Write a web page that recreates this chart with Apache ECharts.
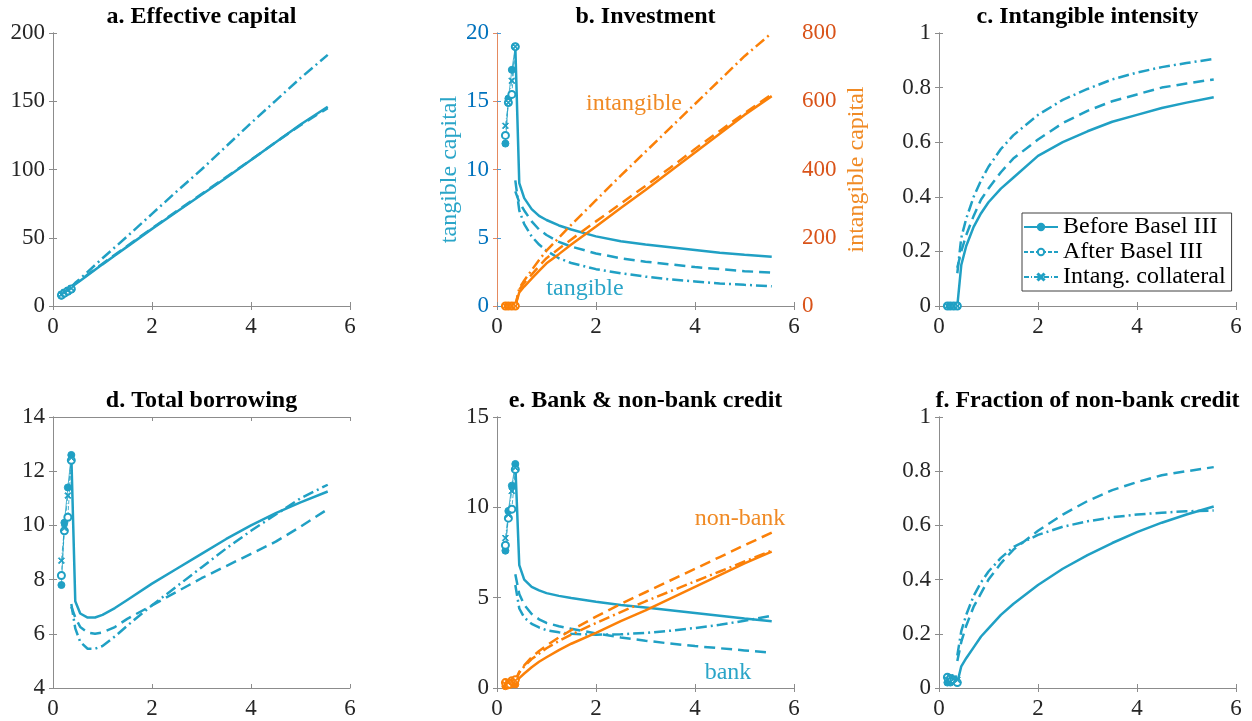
<!DOCTYPE html>
<html>
<head>
<meta charset="utf-8">
<title>Credit and capital paths</title>
<script src="https://cdn.jsdelivr.net/npm/echarts@6/dist/echarts.min.js"></script>
<style>
  html, body { margin: 0; padding: 0; background: #ffffff; }
  #chart { width: 1252px; height: 721px; }
</style>
</head>
<body>
<div id="chart"></div>
<script>
// ---- grids of x values ----
const xLow  = [0.17, 0.23, 0.30, 0.37];
const xPath = [0.37, 0.45, 0.55, 0.7, 0.85, 1.0, 1.25, 1.5, 2.0, 2.5, 3.0, 3.5, 4.0, 4.5, 5.0, 5.55];

// ---- legend names ----
const scenarioNames = ['Before Basel III', 'After Basel III', 'Intang. collateral'];

// ---- panel titles ----
const panelTitles = ['a. Effective capital', 'b. Investment', 'c. Intangible intensity',
                     'd. Total borrowing', 'e. Bank & non-bank credit', 'f. Fraction of non-bank credit'];

// ---- a. Effective capital ----
const capBeforeLow = [7.5, 9.0, 10.5, 12.0];
const capAfterLow  = [8.0, 9.5, 11.0, 12.5];
const capIntangLow = [8.5, 10.0, 11.5, 13.0];
const capBefore = [14, 16, 18.5, 22.5, 26.5, 30.5, 37, 43.5, 56.5, 69, 81.5, 94, 107, 120, 133, 146];
const capAfter  = [14, 16.5, 19, 23, 27, 31, 37.5, 44, 57, 69.5, 82, 94.5, 107, 120, 132.5, 145];
const capIntang = [14, 17, 20, 25, 30, 35, 43, 51, 67.5, 84, 100, 117, 134, 150.5, 167, 184];

// ---- b. Investment: tangible (left axis) ----
const tanBeforeLow = [11.9, 15.2, 17.3, 19.0];
const tanAfterLow  = [12.5, 14.9, 15.5, 19.0];
const tanIntangLow = [13.2, 14.9, 16.5, 19.0];
const tanBefore = [19, 9.0, 7.9, 7.1, 6.6, 6.3, 5.9, 5.6, 5.1, 4.75, 4.5, 4.3, 4.1, 3.9, 3.75, 3.6];
const tanAfter  = [8.4, 7.6, 7.0, 6.2, 5.6, 5.2, 4.7, 4.35, 3.85, 3.5, 3.25, 3.05, 2.85, 2.7, 2.55, 2.45];
const tanIntang = [9.2, 7.0, 6.0, 5.1, 4.5, 4.05, 3.5, 3.15, 2.7, 2.4, 2.15, 1.95, 1.8, 1.65, 1.55, 1.45];
// ---- b. Investment: intangible (right axis) ----
const intBeforeLow = [0, 0, 0, 0];
const intAfterLow  = [0, 0, 0, 0];
const intIntangLow = [0, 0, 0, 0];
const intBefore = [0, 40, 57, 80, 103, 125, 152, 180, 233, 287, 340, 395, 450, 505, 560, 615];
const intAfter  = [0, 48, 68, 92, 117, 140, 168, 195, 248, 300, 352, 405, 460, 513, 565, 620];
const intIntang = [0, 52, 75, 105, 135, 162, 200, 238, 310, 382, 452, 522, 592, 662, 732, 800];

// ---- c. Intangible intensity ----
const shareBeforeLow = [0, 0, 0, 0];
const shareAfterLow  = [0, 0, 0, 0];
const shareIntangLow = [0, 0, 0, 0];
const shareBefore = [0, 0.15, 0.22, 0.29, 0.34, 0.38, 0.43, 0.47, 0.55, 0.6, 0.64, 0.675, 0.7, 0.725, 0.745, 0.765];
const shareAfter  = [0.14, 0.2, 0.26, 0.33, 0.39, 0.43, 0.49, 0.54, 0.61, 0.67, 0.715, 0.75, 0.775, 0.8, 0.815, 0.83];
const shareIntang = [0.12, 0.25, 0.32, 0.4, 0.46, 0.51, 0.575, 0.625, 0.7, 0.755, 0.795, 0.83, 0.855, 0.875, 0.89, 0.905];

// ---- d. Total borrowing ----
const debtBeforeLow = [7.8, 10.1, 11.4, 12.6];
const debtAfterLow  = [8.15, 9.8, 10.3, 12.4];
const debtIntangLow = [8.7, 9.9, 11.1, 12.5];
const debtBefore = [12.6, 7.2, 6.75, 6.6, 6.6, 6.7, 6.95, 7.25, 7.85, 8.4, 8.95, 9.5, 10.0, 10.45, 10.85, 11.25];
const debtAfter  = [7.0, 6.6, 6.25, 6.05, 6.0, 6.05, 6.25, 6.55, 7.05, 7.55, 8.05, 8.5, 8.95, 9.4, 9.95, 10.6];
const debtIntang = [7.1, 6.2, 5.7, 5.45, 5.45, 5.55, 5.9, 6.3, 7.05, 7.75, 8.45, 9.15, 9.8, 10.4, 11.0, 11.5];

// ---- e. Bank credit ----
const bankBeforeLow = [7.6, 9.8, 11.2, 12.4];
const bankAfterLow  = [7.9, 9.4, 9.9, 12.1];
const bankIntangLow = [8.3, 9.6, 10.9, 12.2];
const bankBefore = [12.4, 6.8, 6.0, 5.6, 5.4, 5.25, 5.1, 4.98, 4.78, 4.6, 4.45, 4.3, 4.15, 4.0, 3.85, 3.7];
const bankAfter  = [6.3, 5.2, 4.6, 4.1, 3.8, 3.6, 3.42, 3.28, 3.02, 2.8, 2.62, 2.46, 2.32, 2.2, 2.08, 1.95];
const bankIntang = [5.7, 4.4, 3.9, 3.55, 3.35, 3.2, 3.08, 3.0, 2.95, 2.97, 3.05, 3.17, 3.32, 3.5, 3.72, 4.0];
// ---- e. Non-bank credit ----
const nbBeforeLow = [0.1, 0.15, 0.2, 0.2];
const nbAfterLow  = [0.3, 0.2, 0.4, 0.45];
const nbIntangLow = [0.2, 0.3, 0.35, 0.4];
const nbBefore = [0.2, 0.55, 0.8, 1.15, 1.45, 1.7, 2.1, 2.45, 3.05, 3.7, 4.3, 4.95, 5.6, 6.25, 6.9, 7.55];
const nbAfter  = [0.4, 0.9, 1.25, 1.7, 2.05, 2.35, 2.8, 3.2, 3.95, 4.65, 5.3, 5.95, 6.6, 7.25, 7.9, 8.6];
const nbIntang = [0.4, 0.85, 1.2, 1.6, 1.9, 2.2, 2.6, 2.95, 3.6, 4.2, 4.8, 5.35, 5.9, 6.45, 7.0, 7.6];

// ---- f. Fraction of non-bank credit ----
const fracBeforeLow = [0.02, 0.02, 0.03, 0.02];
const fracAfterLow  = [0.04, 0.035, 0.03, 0.02];
const fracIntangLow = [0.03, 0.04, 0.035, 0.03];
const fracBefore = [0.02, 0.08, 0.11, 0.15, 0.19, 0.22, 0.27, 0.31, 0.38, 0.44, 0.49, 0.535, 0.575, 0.61, 0.64, 0.67];
const fracAfter  = [0.1, 0.17, 0.23, 0.3, 0.35, 0.4, 0.46, 0.51, 0.58, 0.64, 0.69, 0.73, 0.76, 0.785, 0.8, 0.815];
const fracIntang = [0.12, 0.21, 0.27, 0.34, 0.39, 0.43, 0.48, 0.52, 0.565, 0.595, 0.615, 0.63, 0.64, 0.647, 0.652, 0.655];

// ---- y-axis ranges [min, max, step] ----
const yRanges = [
  [0, 200, 50], [0, 20, 5], [0, 1, 0.2],
  [4, 14, 2], [0, 15, 5], [0, 1, 0.2]
];
const yRightRangeB = [0, 800, 200];

// ---------------------------------------------------------------
const TEAL = '#20A0C4';
const ORANGE = '#FB8008';
const BOX = '#8c8c8c';
const INK = '#262626';
const SERIF = '"Liberation Serif", "DejaVu Serif", serif';

const colLeft = [53, 497, 939];
const rowTop = [33, 417];
const rowHeight = [273, 271];
const plotWidth = 297;

const X_SYMBOL = 'path://M0,1.2L1.2,0L5,3.8L8.8,0L10,1.2L6.2,5L10,8.8L8.8,10L5,6.2L1.2,10L0,8.8L3.8,5Z';

const styles = [
  { thickType: 'solid',        thinType: 'solid',  symbol: 'circle',      size: 7 },
  { thickType: [11, 6],        thinType: [4, 2],   symbol: 'emptyCircle', size: 7 },
  { thickType: [11, 4, 2, 4],  thinType: [5, 2, 1, 2], symbol: X_SYMBOL,  size: 6 }
];

function pairs(xs, ys) { return xs.map((x, i) => [x, ys[i]]); }

const grids = [], xAxes = [], yAxes = [], series = [], titles = [];

for (let k = 0; k < 6; k++) {
  const col = k % 3, row = Math.floor(k / 3);
  grids.push({ left: colLeft[col], top: rowTop[row], width: plotWidth, height: rowHeight[row], containLabel: false });
  titles.push({
    text: panelTitles[k],
    left: colLeft[col] + plotWidth / 2,
    top: rowTop[row] - 28,
    textAlign: 'center',
    padding: 0,
    textStyle: { fontFamily: SERIF, fontWeight: 'bold', fontSize: 24, color: '#000' }
  });
  const isB = (k === 1);
  // bottom x axis with labels
  xAxes.push({
    type: 'value', gridIndex: k, position: 'bottom', min: 0, max: 6, interval: 2,
    axisLine: { lineStyle: { color: BOX, width: 1 } },
    axisTick: { inside: true, length: 4, lineStyle: { color: BOX } },
    axisLabel: { color: INK, fontFamily: SERIF, fontSize: 23, margin: 9 },
    splitLine: { show: false }
  });
  // top x axis closes the box
  xAxes.push({
    type: 'value', gridIndex: k, position: 'top', min: 0, max: 6, interval: 2,
    axisLine: { lineStyle: { color: BOX, width: 1 } },
    axisTick: { inside: true, length: 4, lineStyle: { color: BOX } },
    axisLabel: { show: false }, splitLine: { show: false }
  });
  const yr = yRanges[k];
  yAxes.push({
    type: 'value', gridIndex: k, position: 'left', min: yr[0], max: yr[1], interval: yr[2],
    axisLine: { show: true, lineStyle: { color: isB ? '#4a9ad6' : BOX, width: 1 } },
    axisTick: { show: true, inside: true, length: 4, lineStyle: { color: isB ? '#4a9ad6' : BOX } },
    axisLabel: { color: isB ? '#0072BD' : INK, fontFamily: SERIF, fontSize: 23, margin: 8 },
    splitLine: { show: false },
    name: isB ? 'tangible capital' : '',
    nameLocation: 'middle', nameGap: 33, nameRotate: 90,
    nameTextStyle: { color: '#2AA5C8', fontFamily: SERIF, fontSize: 24 }
  });
  const rr = isB ? yRightRangeB : yr;
  yAxes.push({
    type: 'value', gridIndex: k, position: 'right', min: rr[0], max: rr[1], interval: rr[2],
    axisLine: { show: true, lineStyle: { color: isB ? '#E58A60' : BOX, width: 1 } },
    axisTick: { show: true, inside: true, length: 4, lineStyle: { color: isB ? '#E58A60' : BOX } },
    axisLabel: { show: isB, color: '#D95319', fontFamily: SERIF, fontSize: 23, margin: 8 },
    splitLine: { show: false },
    name: isB ? 'intangible capital' : '',
    nameLocation: 'middle', nameGap: 51, nameRotate: 90,
    nameTextStyle: { color: '#F08A24', fontFamily: SERIF, fontSize: 24 }
  });
}

// adds the three scenarios of one variable to panel k
function addVariable(k, yAxisIdx, color, lows, paths) {
  for (let s = 0; s < 3; s++) {
    const st = styles[s];
    series.push({
      type: 'line', name: 'path ' + k + '-' + yAxisIdx + '-' + s,
      xAxisIndex: 2 * k, yAxisIndex: yAxisIdx,
      data: pairs(xPath, paths[s]),
      showSymbol: false, silent: true, z: 2,
      lineStyle: { color: color, width: 2.5, type: st.thickType },
      itemStyle: { color: color }
    });
  }
  for (let s = 0; s < 3; s++) {
    const st = styles[s];
    series.push({
      type: 'line', name: scenarioNames[s],
      xAxisIndex: 2 * k, yAxisIndex: yAxisIdx,
      data: pairs(xLow, lows[s]),
      symbol: st.symbol, symbolSize: st.size, showSymbol: true, silent: true, z: 3,
      lineStyle: { color: color, width: 0.8, type: st.thinType },
      itemStyle: { color: color, borderColor: color, borderWidth: 1 }
    });
  }
}

addVariable(0, 0, TEAL, [capBeforeLow, capAfterLow, capIntangLow], [capBefore, capAfter, capIntang]);
addVariable(1, 2, TEAL, [tanBeforeLow, tanAfterLow, tanIntangLow], [tanBefore, tanAfter, tanIntang]);
addVariable(1, 3, ORANGE, [intBeforeLow, intAfterLow, intIntangLow], [intBefore, intAfter, intIntang]);
addVariable(2, 4, TEAL, [shareBeforeLow, shareAfterLow, shareIntangLow], [shareBefore, shareAfter, shareIntang]);
addVariable(3, 6, TEAL, [debtBeforeLow, debtAfterLow, debtIntangLow], [debtBefore, debtAfter, debtIntang]);
addVariable(4, 8, TEAL, [bankBeforeLow, bankAfterLow, bankIntangLow], [bankBefore, bankAfter, bankIntang]);
addVariable(4, 8, ORANGE, [nbBeforeLow, nbAfterLow, nbIntangLow], [nbBefore, nbAfter, nbIntang]);
addVariable(5, 10, TEAL, [fracBeforeLow, fracAfterLow, fracIntangLow], [fracBefore, fracAfter, fracIntang]);

// in-plot annotations
function note(text, x, y, color) {
  return {
    type: 'text', x: x, y: y, silent: true, z: 10,
    style: { text: text, fill: color, font: '24px ' + SERIF, align: 'center', verticalAlign: 'middle' }
  };
}

const option = {
  animation: false,
  backgroundColor: '#ffffff',
  title: titles,
  grid: grids,
  xAxis: xAxes,
  yAxis: yAxes,
  legend: {
    data: scenarioNames.map(n => ({ name: n })),
    orient: 'vertical',
    left: 1022, top: 213,
    padding: [2, 6, 2, 1],
    itemGap: 1, itemWidth: 34, itemHeight: 8,
    backgroundColor: '#ffffff',
    borderColor: '#404040', borderWidth: 1,
    selectedMode: false,
    textStyle: { fontFamily: SERIF, fontSize: 24, color: '#000' }
  },
  graphic: [
    note('intangible', 634, 104, '#F08A24'),
    note('tangible', 585, 289, '#2AA5C8'),
    note('non-bank', 740, 519, '#F08A24'),
    note('bank', 728, 673, '#2AA5C8')
  ],
  series: series
};

const chart = echarts.init(document.getElementById('chart'), null, { renderer: 'canvas' });
chart.setOption(option);
</script>
</body>
</html>
